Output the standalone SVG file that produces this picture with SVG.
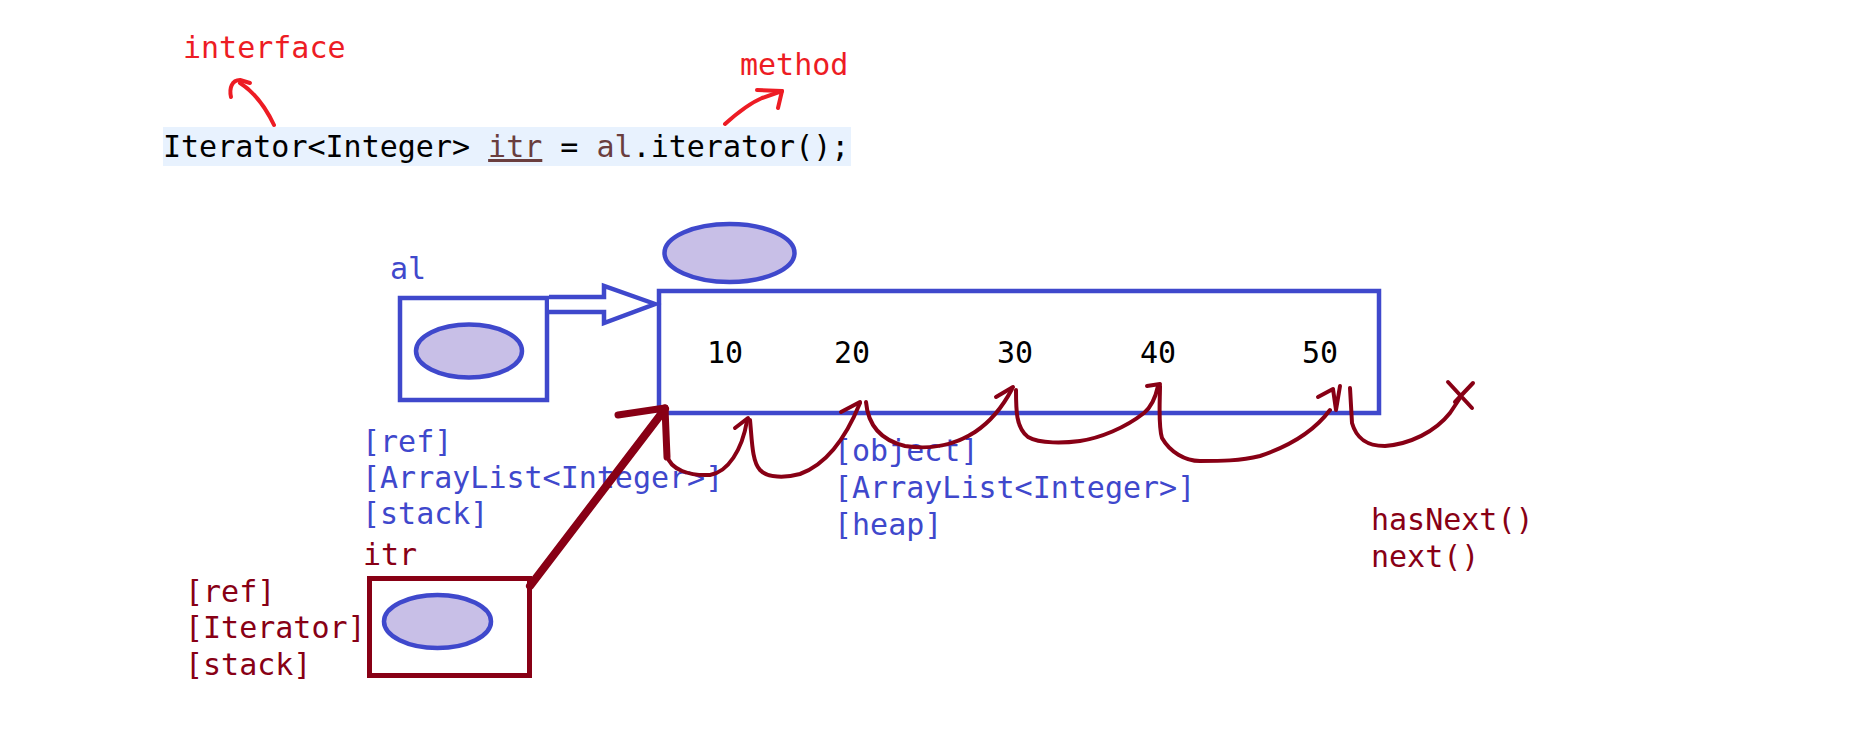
<svg xmlns="http://www.w3.org/2000/svg" width="1850" height="743" viewBox="0 0 1850 743">
<style>
.t{font-family:"DejaVu Sans Mono","Liberation Mono",monospace;font-size:30px}
.blue{fill:#3f48cc}
.dred{fill:#880015}
.red{fill:#ed1c24}
.box-b{fill:none;stroke:#3f48cc;stroke-width:4.5}
.box-r{fill:none;stroke:#880015;stroke-width:5}
.oval{fill:#c8bfe7;stroke:#3f48cc;stroke-width:4.5}
.scrib{fill:none;stroke:#880015;stroke-width:4;stroke-linecap:round;stroke-linejoin:round}
.redpen{fill:none;stroke:#ed1c24;stroke-width:4;stroke-linecap:round;stroke-linejoin:round}
</style>
<rect width="1850" height="743" fill="#ffffff"/>

<g id="code-line">
<rect x="163" y="127" width="688" height="39" fill="#e8f2fe"/>
<text class="t" x="163" y="157" fill="#000000">Iterator&lt;Integer&gt; <tspan fill="#6a3e3e" text-decoration="underline">itr</tspan> = <tspan fill="#6a3e3e">al</tspan>.iterator();</text>
</g>

<g id="interface-note">
<text class="t red" x="183" y="58">interface</text>
</g>
<g id="method-note">
<text class="t red" x="740" y="75">method</text>
</g>

<g id="al-ref">
<text class="t blue" x="390" y="279">al</text>
<rect class="box-b" x="400" y="298" width="147" height="102"/>
<ellipse class="oval" cx="469" cy="351" rx="53" ry="26.5"/>
<text class="t blue" x="362" y="452">[ref]</text>
<text class="t blue" x="362" y="488">[ArrayList&lt;Integer&gt;]</text>
<text class="t blue" x="362" y="524">[stack]</text>
</g>

<g id="arraylist-object">
<ellipse class="oval" cx="729.5" cy="253" rx="65" ry="29"/>
<rect class="box-b" x="659" y="291" width="720" height="122"/>
<text class="t" x="707" y="363">10</text>
<text class="t" x="834" y="363">20</text>
<text class="t" x="997" y="363">30</text>
<text class="t" x="1140" y="363">40</text>
<text class="t" x="1302" y="363">50</text>
<text class="t blue" x="834" y="461">[object]</text>
<text class="t blue" x="834" y="498">[ArrayList&lt;Integer&gt;]</text>
<text class="t blue" x="834" y="535">[heap]</text>
</g>

<g id="itr-ref">
<text class="t dred" x="363" y="565">itr</text>
<rect class="box-r" x="369.5" y="578.5" width="160" height="97"/>
<ellipse class="oval" cx="437.5" cy="621.5" rx="53.5" ry="26.5"/>
<text class="t dred" x="185" y="602">[ref]</text>
<text class="t dred" x="185" y="638">[Iterator]</text>
<text class="t dred" x="185" y="675">[stack]</text>
</g>

<g id="iteration-notes">
<text class="t dred" x="1371" y="530">hasNext()</text>
<text class="t dred" x="1371" y="567">next()</text>
</g>

<g id="connectors">
<!-- annotation arrows -->
<path class="redpen" d="M274,125 C266,108 254,92 240,83"/>
<path class="redpen" d="M231,97 C229,88 232,80 240,80 L250,83"/>
<path class="redpen" d="M725,124 C735,115 748,104 762,98 L782,91"/>
<path class="redpen" d="M757,90 L782,91 L778,108"/>
<!-- al -> object hollow arrow -->
<polyline fill="#ffffff" stroke="#3f48cc" stroke-width="4.5" stroke-linejoin="miter" points="549,297 604,297 604,286 655,304 604,323 604,312 549,312"/>
<!-- itr -> object thick arrow -->
<line x1="530" y1="586" x2="665" y2="409" stroke="#880015" stroke-width="8" stroke-linecap="round"/>
<line x1="618" y1="415" x2="665" y2="408" stroke="#880015" stroke-width="7" stroke-linecap="round"/>
<path d="M665,408 L667,457" stroke="#880015" stroke-width="7" stroke-linecap="round" fill="none"/>
<!-- iteration scribble -->
<path class="scrib" d="M667,455 C670,470 690,476 710,475 C728,472 742,450 747,421"/>
<path class="scrib" d="M735,428 L748,418"/>
<path class="scrib" d="M750,420 C752,440 752,462 760,470 C768,478 785,478 800,474 C825,465 845,440 860,403"/>
<path class="scrib" d="M841,412 L860,402"/>
<path class="scrib" d="M866,402 C868,425 880,440 905,446 C930,450 955,445 975,432 C990,422 1002,408 1012,389"/>
<path class="scrib" d="M996,397 L1013,387"/>
<path class="scrib" d="M1016,390 C1016,410 1016,428 1028,437 C1040,444 1065,443 1080,441 C1100,438 1125,428 1144,413 C1150,408 1155,400 1158,386"/>
<path class="scrib" d="M1147,386 L1160,384"/>
<path class="scrib" d="M1160,386 C1160,400 1158,425 1162,438 C1170,452 1185,461 1200,461 C1220,461 1240,461 1260,456 C1290,446 1315,430 1330,410"/>
<path class="scrib" d="M1318,397 L1333,389 L1336,410 L1340,386"/>
<path class="scrib" d="M1350,388 L1352,423 C1356,437 1365,446 1385,446 C1410,444 1435,432 1450,413 L1460,398"/>
<path class="scrib" d="M1448,382 L1472,408 M1473,383 L1455,402"/>
</g>
</svg>
